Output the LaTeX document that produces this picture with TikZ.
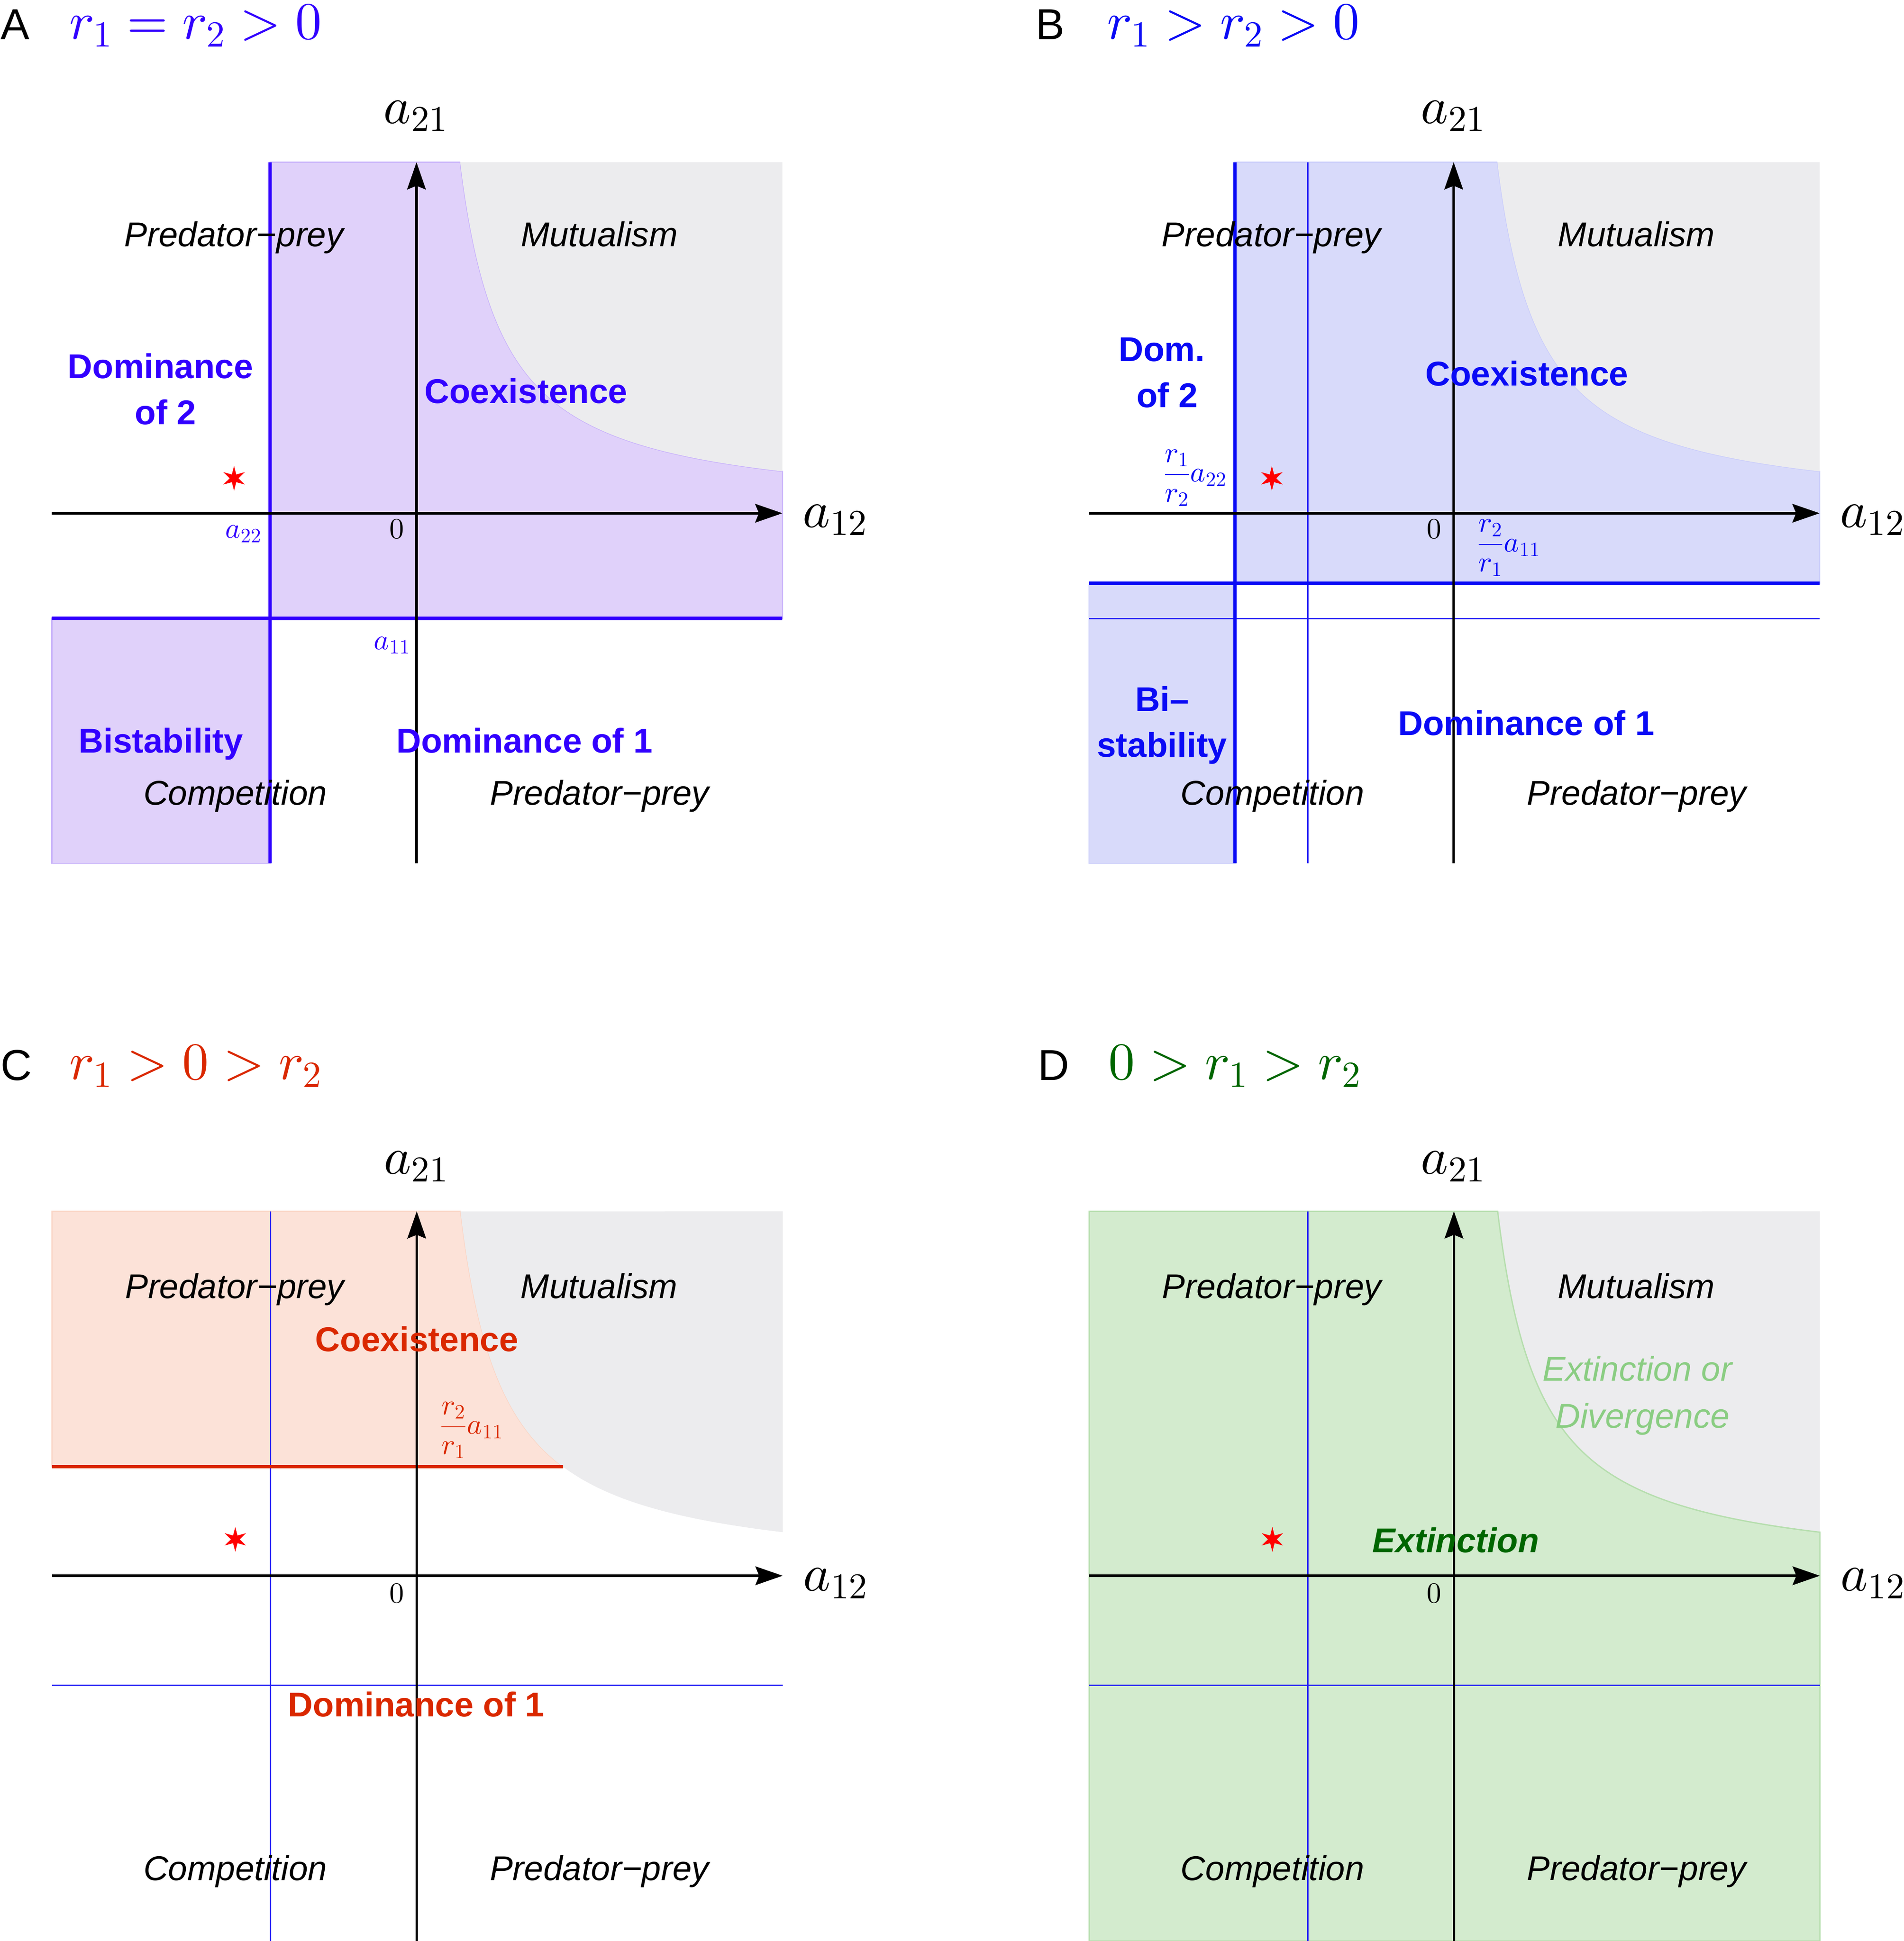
\documentclass[tikz,border=0pt]{standalone}
\usepackage{fontspec}
\newfontfamily\lsans{Liberation Sans}
\usetikzlibrary{arrows.meta,shapes.geometric}
\DeclareFontShape{OT1}{cmr}{m}{n}{<->cmr10}{}
\DeclareFontShape{OML}{cmm}{m}{it}{<->cmmi10}{}
\DeclareFontShape{OMS}{cmsy}{m}{n}{<->cmsy10}{}
\DeclareFontShape{OMX}{cmex}{m}{n}{<->cmex10}{}
\definecolor{Ablue}{RGB}{50,0,255}
\definecolor{Afill}{RGB}{224,209,250}
\definecolor{Aedge}{RGB}{200,178,250}
\definecolor{Bblue}{RGB}{10,10,245}
\definecolor{Bfill}{RGB}{216,218,250}
\definecolor{Bedge}{RGB}{202,205,250}
\definecolor{Cred}{RGB}{218,40,0}
\definecolor{Cfill}{RGB}{252,226,216}
\definecolor{Cedge}{RGB}{250,214,198}
\definecolor{Dgreen}{RGB}{0,102,0}
\definecolor{Dlight}{RGB}{138,205,130}
\definecolor{Dfill}{RGB}{211,235,206}
\definecolor{Dedge}{RGB}{182,222,174}
\definecolor{grayfill}{RGB}{236,236,238}
\definecolor{thinblue}{RGB}{35,30,245}
\tikzset{
  axisline/.style={line width=2pt, -{Stealth[length=22pt,width=15pt,inset=3pt]}},
  lab/.style={font=\lsans\itshape\fontsize{27.8}{33}\selectfont, inner sep=0pt, anchor=base},
  blab/.style={font=\lsans\bfseries\fontsize{27.8}{33}\selectfont, inner sep=0pt, anchor=base},
  bilab/.style={font=\lsans\bfseries\itshape\fontsize{27.8}{33}\selectfont, inner sep=0pt, anchor=base},
  panelletter/.style={font=\lsans\fontsize{35}{40}\selectfont, inner sep=0pt, anchor=base west},
  cond/.style={font=\fontsize{42.5}{48}\selectfont, inner sep=0pt, anchor=base west},
  axlab/.style={font=\fontsize{42}{48}\selectfont, inner sep=0pt, anchor=base west},
  ticklab/.style={font=\fontsize{23.5}{28}\selectfont, inner sep=0pt},
  starmark/.style={star, star points=6, star point ratio=2.8, fill=red, draw=none, inner sep=0pt, minimum size=20pt},
  thickline/.style={line width=2.9pt},
  thinline/.style={thinblue, line width=0.9pt},
  edge/.style={line width=1pt}
}
\begin{document}
\begin{tikzpicture}[x=1pt,y=-1pt]
\useasboundingbox (0,0) rectangle (1537.1,1567.6);

% ================= Panel A =================
\begin{scope}[shift={(336.3,414.5)},yscale=-1]
  \fill[Afill, draw=Aedge, edge] (-118.2,-84.8) -- (-118.2,283.5) -- (35.27,283.5)
     -- plot[domain=35.27:295.5,samples=200] (\x,{10000/\x}) -- (295.5,-84.8) -- cycle;
  \fill[Afill, draw=Aedge, edge] (-294.5,-282.7) rectangle (-118.2,-84.8);
  \fill[grayfill] plot[domain=35.27:295.5,samples=200] (\x,{10000/\x}) -- (295.5,283.5) -- cycle;
  \coordinate (A-v1) at (-118.2,-282.7); \coordinate (A-v2) at (-118.2,283.5);
  \coordinate (A-h1) at (-294.5,-84.8);  \coordinate (A-h2) at (295.5,-84.8);
  \coordinate (A-l) at (-294.5,0); \coordinate (A-r) at (295.5,0);
  \coordinate (A-b) at (0,-282.7); \coordinate (A-t) at (0,283.5);
  \draw[Ablue, thickline] (A-v1) -- (A-v2);
  \draw[Ablue, thickline] (A-h1) -- (A-h2);
  \draw[axisline] (A-l) -- (A-r);
  \draw[axisline] (A-b) -- (A-t);
\end{scope}
\node[panelletter] (A-letter) at (0.5,32) {A};
\node[cond, text=Ablue] (A-cond) at (56,31.5) {$r_1 = r_2 > 0$};
\node[axlab] (A-a21) at (309.6,99.6) {$a_{21}$};
\node[axlab] (A-a12) at (648,426) {$a_{12}$};
\node[ticklab, anchor=base east] (A-zero) at (326.4,435) {$0$};
\node[ticklab, anchor=base east, text=Ablue] (A-a22) at (211.4,434.5) {$a_{22}$};
\node[ticklab, anchor=base east, text=Ablue] (A-a11) at (331.5,524.5) {$a_{11}$};
\node[starmark] (A-star) at (189,386.3) {};
\node[lab] (A-pp1) at (188.9,199.2) {Predator−prey};
\node[lab] (A-mut) at (483.9,199.2) {Mutualism};
\node[blab, text=Ablue] (A-dom2a) at (129.5,305.7) {Dominance};
\node[blab, text=Ablue] (A-dom2b) at (133.7,342.8) {of 2};
\node[blab, text=Ablue] (A-coex) at (424.7,325.6) {Coexistence};
\node[blab, text=Ablue] (A-bist) at (129.9,608) {Bistability};
\node[blab, text=Ablue] (A-dom1) at (423.5,608) {Dominance of 1};
\node[lab] (A-comp) at (190,650) {Competition};
\node[lab] (A-pp2) at (484.1,650) {Predator−prey};

% ================= Panel B =================
\begin{scope}[shift={(1173.8,414.5)},yscale=-1]
  \fill[Bfill, draw=Bedge, edge] (-176.6,-56.6) -- (-176.6,283.5) -- (35.27,283.5)
     -- plot[domain=35.27:295.5,samples=200] (\x,{10000/\x}) -- (295.5,-56.6) -- cycle;
  \fill[Bfill, draw=Bedge, edge] (-294.5,-282.7) rectangle (-176.6,-56.6);
  \fill[grayfill] plot[domain=35.27:295.5,samples=200] (\x,{10000/\x}) -- (295.5,283.5) -- cycle;
  \coordinate (B-tv1) at (-117.7,-282.7); \coordinate (B-tv2) at (-117.7,283.5);
  \coordinate (B-th1) at (-294.5,-85.2);  \coordinate (B-th2) at (295.5,-85.2);
  \coordinate (B-v1) at (-176.6,-282.7); \coordinate (B-v2) at (-176.6,283.5);
  \coordinate (B-h1) at (-294.5,-56.6);  \coordinate (B-h2) at (295.5,-56.6);
  \coordinate (B-l) at (-294.5,0); \coordinate (B-r) at (295.5,0);
  \coordinate (B-b) at (0,-282.7); \coordinate (B-t) at (0,283.5);
  \draw[thinline] (B-tv1) -- (B-tv2);
  \draw[thinline] (B-th1) -- (B-th2);
  \draw[Bblue, thickline] (B-v1) -- (B-v2);
  \draw[Bblue, thickline] (B-h1) -- (B-h2);
  \draw[axisline] (B-l) -- (B-r);
  \draw[axisline] (B-b) -- (B-t);
\end{scope}
\node[panelletter] (B-letter) at (836,32) {B};
\node[cond, text=Bblue] (B-cond) at (894,31.5) {$r_1 > r_2 > 0$};
\node[axlab] (B-a21) at (1147.1,99.6) {$a_{21}$};
\node[axlab] (B-a12) at (1485.5,426) {$a_{12}$};
\node[ticklab, anchor=base east] (B-zero) at (1163.9,435) {$0$};
\node[ticklab, text=Bblue] (B-f22) at (965,386) {$\displaystyle\frac{r_1}{r_2}a_{22}$};
\node[ticklab, text=Bblue] (B-f11) at (1218.2,442.5) {$\displaystyle\frac{r_2}{r_1}a_{11}$};
\node[starmark] (B-star) at (1027,386.3) {};
\node[lab] (B-pp1) at (1026.6,199.2) {Predator−prey};
\node[lab] (B-mut) at (1321.4,199.2) {Mutualism};
\node[blab, text=Bblue] (B-dom2a) at (938,291.8) {Dom.};
\node[blab, text=Bblue] (B-dom2b) at (942.5,328.9) {of 2};
\node[blab, text=Bblue] (B-coex) at (1232.9,311.7) {Coexistence};
\node[blab, text=Bblue] (B-bi1) at (938.5,574.4) {Bi–};
\node[blab, text=Bblue] (B-bi2) at (938.3,611.5) {stability};
\node[blab, text=Bblue] (B-dom1) at (1232.4,593.8) {Dominance of 1};
\node[lab] (B-comp) at (1027.5,650) {Competition};
\node[lab] (B-pp2) at (1321.6,650) {Predator−prey};

% ================= Panel C =================
\begin{scope}[shift={(336.5,1272.6)},yscale=-1.04]
  \fill[Cfill, draw=Cedge, edge] (-294.5,84.6) -- (-294.5,283) -- (35.34,283)
     -- plot[domain=35.34:118.2,samples=120] (\x,{10000/\x}) -- cycle;
  \fill[grayfill] plot[domain=35.34:295.5,samples=200] (\x,{10000/\x}) -- (295.5,283) -- cycle;
  \coordinate (C-tv1) at (-118,-283.65); \coordinate (C-tv2) at (-118,283);
  \coordinate (C-th1) at (-294.5,-85);  \coordinate (C-th2) at (295.5,-85);
  \coordinate (C-h1) at (-294.5,84.6);  \coordinate (C-h2) at (118.2,84.6);
  \coordinate (C-l) at (-294.5,0); \coordinate (C-r) at (295.5,0);
  \coordinate (C-b) at (0,-283.65); \coordinate (C-t) at (0,283);
  \draw[thinline] (C-tv1) -- (C-tv2);
  \draw[thinline] (C-th1) -- (C-th2);
  \draw[Cred, line width=2.5pt] (C-h1) -- (C-h2);
  \draw[axisline] (C-l) -- (C-r);
  \draw[axisline] (C-b) -- (C-t);
\end{scope}
\node[panelletter] (C-letter) at (0.5,872.5) {C};
\node[cond, text=Cred] (C-cond) at (56,871.5) {$r_1 > 0 > r_2$};
\node[axlab] (C-a21) at (309.7,948.2) {$a_{21}$};
\node[axlab] (C-a12) at (648.4,1284.7) {$a_{12}$};
\node[ticklab, anchor=base east] (C-zero) at (326.6,1294.5) {$0$};
\node[ticklab, text=Cred] (C-f11) at (380.8,1155) {$\displaystyle\frac{r_2}{r_1}a_{11}$};
\node[starmark] (C-star) at (190,1243.2) {};
\node[lab] (C-pp1) at (189.5,1048.5) {Predator−prey};
\node[lab] (C-mut) at (483.8,1048.5) {Mutualism};
\node[blab, text=Cred] (C-coex) at (336.6,1091.4) {Coexistence};
\node[blab, text=Cred] (C-dom1) at (336.1,1386.3) {Dominance of 1};
\node[lab] (C-comp) at (190,1518.5) {Competition};
\node[lab] (C-pp2) at (484,1518.5) {Predator−prey};

% ================= Panel D =================
\begin{scope}[shift={(1174,1272.6)},yscale=-1.04]
  \fill[Dfill, draw=Dedge, edge] (-294.5,-283.65) -- (-294.5,283) -- (35.34,283)
     -- plot[domain=35.34:295.5,samples=200] (\x,{10000/\x}) -- (295.5,-283.65) -- cycle;
  \fill[grayfill] plot[domain=35.34:295.5,samples=200] (\x,{10000/\x}) -- (295.5,283) -- cycle;
  \draw[Dedge, edge] plot[domain=35.34:295.5,samples=200] (\x,{10000/\x});
  \coordinate (D-tv1) at (-118,-283.65); \coordinate (D-tv2) at (-118,283);
  \coordinate (D-th1) at (-294.5,-85);  \coordinate (D-th2) at (295.5,-85);
  \coordinate (D-l) at (-294.5,0); \coordinate (D-r) at (295.5,0);
  \coordinate (D-b) at (0,-283.65); \coordinate (D-t) at (0,283);
  \draw[thinline] (D-tv1) -- (D-tv2);
  \draw[thinline] (D-th1) -- (D-th2);
  \draw[axisline] (D-l) -- (D-r);
  \draw[axisline] (D-b) -- (D-t);
\end{scope}
\node[panelletter] (D-letter) at (838,872.5) {D};
\node[cond, text=Dgreen] (D-cond) at (895,871.5) {$0 > r_1 > r_2$};
\node[axlab] (D-a21) at (1147.2,948.2) {$a_{21}$};
\node[axlab] (D-a12) at (1485.9,1284.7) {$a_{12}$};
\node[ticklab, anchor=base east] (D-zero) at (1164.1,1294.5) {$0$};
\node[starmark] (D-star) at (1027.4,1243.2) {};
\node[lab] (D-pp1) at (1027,1048.5) {Predator−prey};
\node[lab] (D-mut) at (1321.3,1048.5) {Mutualism};
\node[lab, text=Dlight] (D-eor1) at (1322,1115.3) {Extinction or};
\node[lab, text=Dlight] (D-eor2) at (1326.3,1153.4) {Divergence};
\node[bilab, text=Dgreen] (D-ext) at (1175.5,1253.7) {Extinction};
\node[lab] (D-comp) at (1027.5,1518.5) {Competition};
\node[lab] (D-pp2) at (1321.5,1518.5) {Predator−prey};
\end{tikzpicture}
\end{document}
